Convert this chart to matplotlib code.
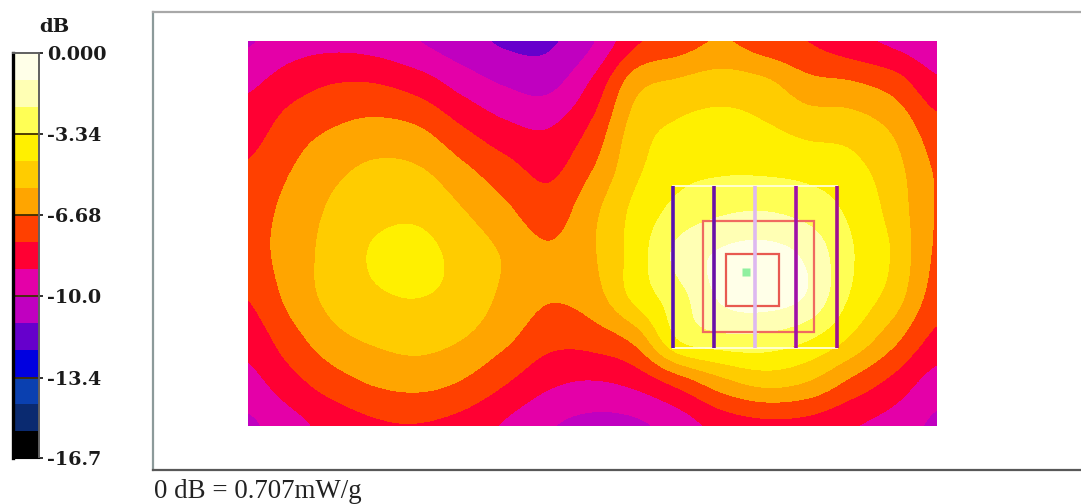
import matplotlib
matplotlib.use("Agg")
import matplotlib.pyplot as plt
from matplotlib.colors import ListedColormap, BoundaryNorm
from matplotlib.patches import Rectangle
import numpy as np

# colour scale, top to bottom
band_edges = [0, -1.113, -2.227, -3.34, -4.453, -5.567, -6.68, -7.793, -8.907,
              -10.0, -11.133, -12.247, -13.4, -14.473, -15.587, -16.7]
band_colors = ["#FFFFE8", "#FFFFB4", "#FFFF55", "#FFF000", "#FFCC00", "#FFA500",
               "#FF4000", "#FF0033", "#E400A8", "#C000C0", "#6600CC", "#0000E0",
               "#0A40B0", "#0A2A70", "#000000"]
tick_values = [0, -3.34, -6.68, -10.0, -13.4, -16.7]
tick_labels = ["0.000", "-3.34", "-6.68", "-10.0", "-13.4", "-16.7"]

# dB, one list per column, top row first
grid_x = [248, 291, 334, 377, 420, 463, 506, 549, 593, 636, 679, 722, 765, 808, 851, 894, 937]
grid_y = [41, 84, 127, 169, 212, 255, 298, 340, 383, 426]
db_columns = [
    [-10.1, -9.1, -8.35, -7.65, -7.2, -7.2, -7.75, -8.5, -9.3, -10.2],
    [-9.4, -8.3, -7.3, -6.7, -6.3, -6.13, -6.35, -7.15, -8.2, -9.3],
    [-9.2, -7.8, -6.7, -5.85, -5.35, -5.15, -5.2, -5.95, -7.2, -8.5],
    [-9.4, -7.8, -6.4, -5.35, -4.75, -4.3, -4.6, -5.4, -6.55, -7.95],
    [-10.0, -8.35, -6.7, -5.5, -4.7, -4.15, -4.45, -5.2, -6.35, -7.85],
    [-10.7, -9.35, -7.8, -6.45, -5.5, -4.85, -4.85, -5.6, -6.8, -8.2],
    [-11.3, -10.1, -8.7, -7.4, -6.45, -5.7, -5.85, -6.5, -7.75, -9.05],
    [-11.3, -10.3, -8.95, -8.05, -7.25, -6.5, -6.6, -7.45, -8.7, -9.9],
    [-10.1, -8.7, -7.6, -6.7, -5.85, -5.7, -6.1, -7.35, -9.0, -10.3],
    [-8.0, -6.0, -5.1, -4.7, -4.15, -3.95, -4.15, -6.36, -8.6, -10.2],
    [-7.25, -5.35, -4.3, -3.75, -2.95, -1.9, -2.65, -3.35, -7.4, -9.5],
    [-6.6, -5.0, -4.1, -3.5, -2.35, -0.95, -0.95, -2.65, -6.0, -8.5],
    [-7.3, -5.3, -4.35, -3.53, -2.2, -0.7, -0.6, -2.65, -5.25, -8.1],
    [-7.8, -6.3, -4.85, -3.72, -2.6, -1.35, -1.25, -3.3, -5.65, -8.2],
    [-8.5, -6.55, -5.0, -4.1, -3.55, -3.2, -3.45, -4.65, -6.95, -8.8],
    [-9.15, -7.2, -5.8, -5.15, -4.85, -4.6, -5.0, -6.4, -8.15, -9.35],
    [-9.7, -8.65, -7.4, -6.8, -6.75, -6.85, -7.2, -8.15, -9.4, -10.2],
]

# zoom scan overlay
scan_lines_x = [673, 714, 755, 796, 837]
scan_lines_c = ["#5A10B0", "#6A10A8", "#DDB8F0", "#A010A8", "#A01090"]
scan_y = [186, 348]
box_mid = [703, 221, 111, 111]
box_inner = [726, 254, 53, 52]
peak_xy = [746, 272]

W, H = 1081, 504


def px_axes(fig, x0, y0, x1, y1):
    # axes from picture pixels (y going down)
    return fig.add_axes([x0 / W, 1 - y1 / H, (x1 - x0) / W, (y1 - y0) / H])


fig = plt.figure(figsize=(W / 100, H / 100), dpi=100)
cmap = ListedColormap(band_colors[::-1])
norm = BoundaryNorm(band_edges[::-1], cmap.N)

# frame
frame = px_axes(fig, 153, 12, W + 3, 470)
frame.set_xticks([])
frame.set_yticks([])
frame.spines["right"].set_visible(False)
frame.spines["left"].set_color("#8C9A9A")
frame.spines["top"].set_color("#A8A8A8")
frame.spines["bottom"].set_color("#585858")
for s in ["left", "top", "bottom"]:
    frame.spines[s].set_linewidth(1.6)

# map
ax = px_axes(fig, 248, 41, 937, 426)
db = np.array(db_columns).T
dx = (grid_x[1] - grid_x[0]) / 2
dy = (grid_y[1] - grid_y[0]) / 2
ax.imshow(db, cmap=cmap, norm=norm, interpolation="catrom", interpolation_stage="data",
          extent=(grid_x[0] - dx, grid_x[-1] + dx, grid_y[-1] + dy, grid_y[0] - dy), aspect="auto")
ax.set_xlim(grid_x[0], grid_x[-1])
ax.set_ylim(grid_y[-1], grid_y[0])
ax.axis("off")

ax.add_patch(Rectangle((scan_lines_x[0], scan_y[0]), scan_lines_x[-1] - scan_lines_x[0],
                       scan_y[1] - scan_y[0], fill=False, ec="#FFFFD8", lw=1.3))
for x, c in zip(scan_lines_x, scan_lines_c):
    ax.plot([x, x], scan_y, color=c, lw=2.6, solid_capstyle="butt")
ax.add_patch(Rectangle(box_mid[:2], box_mid[2], box_mid[3], fill=False, ec="#F06A60", lw=1.6))
ax.add_patch(Rectangle(box_inner[:2], box_inner[2], box_inner[3], fill=False, ec="#E85A50", lw=1.6))
ax.plot(*peak_xy, marker="s", ms=5.5, mec="none", color="#90F0A0")

# colour bar
cax = px_axes(fig, 13, 53, 39, 458)
cax.pcolormesh([0, 1], band_edges[::-1], np.array(band_edges[:-1])[::-1].reshape(-1, 1) - 0.1,
               cmap=cmap, norm=norm)
cax.set_xticks([])
cax.set_ylim(band_edges[-1], band_edges[0])
cax.set_yticks(tick_values, tick_labels)
cax.yaxis.tick_right()
cax.tick_params(axis="y", length=3, width=1.4, color="#303030", labelsize=13.8, pad=3,
                labelcolor="#1A1A1A")
for label in cax.get_yticklabels():
    label.set_fontfamily("DejaVu Serif")
    label.set_fontweight("bold")
for v in tick_values[1:-1]:
    cax.axhline(v, color="#403000", lw=1.3)
cax.spines["left"].set_linewidth(2.4)
cax.spines["left"].set_color("#000000")
cax.spines["right"].set_color("#606060")
cax.spines["right"].set_linewidth(1.4)
cax.spines["top"].set_color("#606060")
cax.spines["top"].set_linewidth(1.4)
cax.spines["bottom"].set_color("#000000")

fig.text(54 / W, 1 - 27 / H, "dB", fontsize=14, color="#1A1A1A", ha="center", va="center",
         family="DejaVu Serif", weight="bold")
fig.text(154 / W, 1 - 492 / H, "0 dB = 0.707mW/g", fontsize=19.4, family="Liberation Serif",
         color="#222222", ha="left", va="center")

fig.savefig("out.png", dpi=100)
